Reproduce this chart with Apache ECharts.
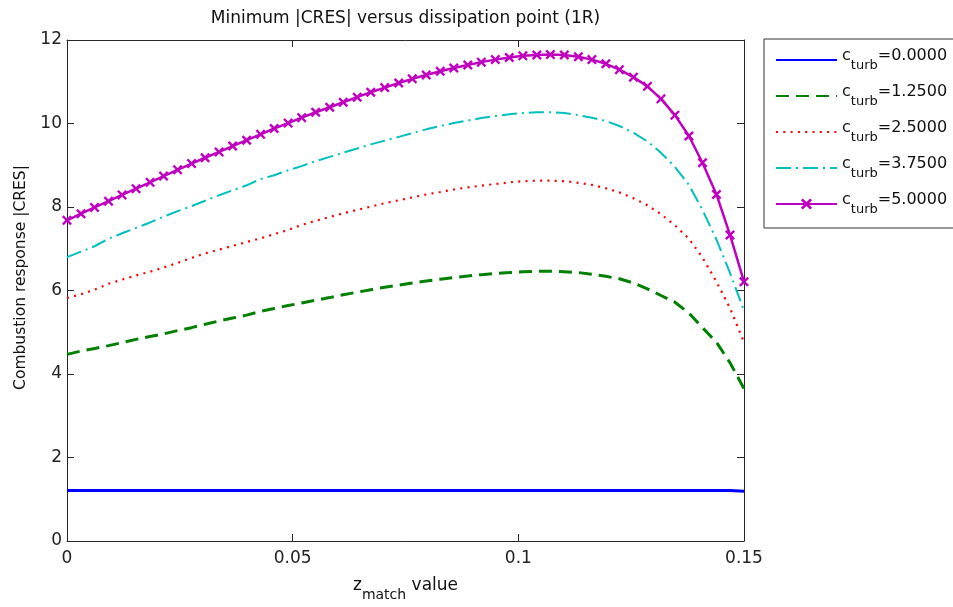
<!DOCTYPE html>
<html>
<head>
<meta charset="utf-8">
<script src="https://cdn.jsdelivr.net/npm/echarts@6/dist/echarts.min.js"></script>
<style>
  html, body { margin: 0; padding: 0; background: #ffffff; }
  #chart { width: 953px; height: 607px; }
</style>
</head>
<body>
<div id="chart"></div>
<script>
// Dissipation point positions (z_match), 50 samples from 0 to 0.15
const zMatch = [
  0, 0.0031, 0.0061, 0.0092, 0.0122, 0.0153, 0.0184, 0.0214, 0.0245, 0.0276,
  0.0306, 0.0337, 0.0367, 0.0398, 0.0429, 0.0459, 0.0490, 0.0520, 0.0551, 0.0582,
  0.0612, 0.0643, 0.0673, 0.0704, 0.0735, 0.0765, 0.0796, 0.0827, 0.0857, 0.0888,
  0.0918, 0.0949, 0.0980, 0.1010, 0.1041, 0.1071, 0.1102, 0.1133, 0.1163, 0.1194,
  0.1224, 0.1255, 0.1286, 0.1316, 0.1347, 0.1378, 0.1408, 0.1439, 0.1469, 0.1500
];

// Turbulence coefficients, one curve each
const cTurb = [0.0, 1.25, 2.5, 3.75, 5.0];

// Minimum |CRES| for each c_turb
const cres0 = [
  1.21, 1.21, 1.21, 1.21, 1.21, 1.21, 1.21, 1.21, 1.21, 1.21,
  1.21, 1.21, 1.21, 1.21, 1.21, 1.21, 1.21, 1.21, 1.21, 1.21,
  1.21, 1.21, 1.21, 1.21, 1.21, 1.21, 1.21, 1.21, 1.21, 1.21,
  1.21, 1.21, 1.21, 1.21, 1.21, 1.21, 1.21, 1.21, 1.21, 1.21,
  1.21, 1.21, 1.21, 1.21, 1.21, 1.21, 1.21, 1.21, 1.21, 1.19
];
const cres125 = [
  4.47, 4.55, 4.61, 4.68, 4.75, 4.83, 4.90, 4.96, 5.04, 5.11,
  5.19, 5.27, 5.34, 5.41, 5.50, 5.57, 5.64, 5.70, 5.77, 5.83,
  5.90, 5.96, 6.02, 6.08, 6.13, 6.18, 6.23, 6.27, 6.31, 6.35,
  6.38, 6.41, 6.43, 6.45, 6.46, 6.46, 6.45, 6.43, 6.39, 6.34,
  6.28, 6.18, 6.04, 5.88, 5.72, 5.46, 5.11, 4.76, 4.27, 3.65
];
const cres250 = [
  5.82, 5.91, 6.02, 6.16, 6.26, 6.36, 6.45, 6.55, 6.66, 6.78,
  6.89, 6.98, 7.07, 7.16, 7.25, 7.35, 7.45, 7.57, 7.67, 7.76,
  7.85, 7.93, 8.01, 8.09, 8.16, 8.23, 8.30, 8.36, 8.42, 8.47,
  8.51, 8.55, 8.59, 8.62, 8.63, 8.63, 8.62, 8.58, 8.53, 8.45,
  8.35, 8.21, 8.04, 7.83, 7.56, 7.24, 6.79, 6.21, 5.58, 4.76
];
const cres375 = [
  6.80, 6.93, 7.06, 7.24, 7.37, 7.50, 7.63, 7.77, 7.90, 8.02,
  8.15, 8.28, 8.40, 8.52, 8.67, 8.76, 8.88, 8.98, 9.10, 9.20,
  9.30, 9.40, 9.50, 9.59, 9.68, 9.77, 9.86, 9.94, 10.01, 10.07,
  10.13, 10.18, 10.22, 10.25, 10.27, 10.27, 10.25, 10.20, 10.14, 10.06,
  9.94, 9.78, 9.57, 9.30, 8.96, 8.53, 7.93, 7.22, 6.42, 5.52
];
const cres500 = [
  7.68, 7.84, 7.99, 8.14, 8.29, 8.44, 8.59, 8.74, 8.89, 9.04,
  9.18, 9.32, 9.46, 9.60, 9.74, 9.88, 10.01, 10.14, 10.27, 10.39,
  10.51, 10.63, 10.75, 10.86, 10.97, 11.07, 11.16, 11.25, 11.33, 11.40,
  11.47, 11.53, 11.58, 11.62, 11.64, 11.65, 11.64, 11.60, 11.53, 11.43,
  11.29, 11.11, 10.89, 10.59, 10.20, 9.70, 9.06, 8.30, 7.33, 6.21
];

// Axis tick labels
const xTickLabels = ['0', '0.05', '0.1', '0.15'];
const yTickLabels = ['0', '2', '4', '6', '8', '10', '12'];

const FONT = 'DejaVu Sans';
const AXIS_COLOR = '#262626';
const X_MARK = 'path://M0,1.7L1.7,0L5,3.3L8.3,0L10,1.7L6.7,5L10,8.3L8.3,10L5,6.7L1.7,10L0,8.3L3.3,5Z';

const curves = [cres0, cres125, cres250, cres375, cres500];
const styles = [
  { color: '#0000ff', width: 3, type: 'solid' },
  { color: '#008000', width: 3, type: [13, 7] },
  { color: '#ff0000', width: 2.2, type: [2, 5.3] },
  { color: '#00bfbf', width: 2, type: [15, 5, 2, 5] },
  { color: '#bf00bf', width: 2.5, type: 'solid' }
];

const series = curves.map((vals, k) => ({
  name: 'c_turb=' + cTurb[k].toFixed(4),
  type: 'line',
  data: zMatch.map((z, i) => [z, vals[i]]),
  showSymbol: k === 4,
  showAllSymbol: true,
  symbol: k === 4 ? X_MARK : 'none',
  symbolSize: 10,
  itemStyle: { color: styles[k].color },
  lineStyle: { color: styles[k].color, width: styles[k].width, type: styles[k].type },
  emphasis: { disabled: true },
  z: 2 + k
}));

// Legend entries: only the last curve carries a marker
const legendData = series.map((s, k) => (
  k === 4 ? { name: s.name } : { name: s.name, itemStyle: { opacity: 0 } }
));

// Rich text pieces for "c" + subscript "turb"
const mainTok = { fontFamily: FONT, fontSize: 16, color: '#111', lineHeight: 16, verticalAlign: 'top' };
const subTok = { fontFamily: FONT, fontSize: 13, color: '#111', lineHeight: 24, verticalAlign: 'bottom' };

const axisBase = {
  axisLine: { show: true, onZero: false, lineStyle: { color: AXIS_COLOR, width: 1 } },
  axisTick: { show: true, inside: true, length: 7, lineStyle: { color: AXIS_COLOR } },
  splitLine: { show: false }
};

const chart = echarts.init(document.getElementById('chart'), null, { renderer: 'canvas' });
chart.setOption({
  animation: false,
  backgroundColor: '#ffffff',
  grid: { left: 67, right: 209, top: 40, bottom: 63 },
  legend: {
    orient: 'vertical',
    left: 764,
    top: 39,
    padding: [9, 40, 12, 11],
    itemWidth: 61,
    itemHeight: 14,
    itemGap: 12,
    borderColor: '#333',
    borderWidth: 1,
    backgroundColor: '#ffffff',
    selectedMode: false,
    data: legendData,
    formatter: name => '{m|c}{s|turb}{m|=' + name.split('=')[1] + '}',
    textStyle: { rich: { m: mainTok, s: subTok } }
  },
  xAxis: [
    Object.assign({
      type: 'value', position: 'bottom', min: 0, max: 0.15, interval: 0.05,
      axisLabel: {
        color: '#222', fontSize: 17, fontFamily: FONT, margin: 9,
        formatter: v => xTickLabels[Math.round(v / 0.05)]
      },
      name: '{a|z}{b|match}{a| value}',
      nameLocation: 'middle',
      nameGap: 36,
      nameTextStyle: {
        rich: {
          a: { fontFamily: FONT, fontSize: 17, color: '#111', lineHeight: 17, verticalAlign: 'top' },
          b: { fontFamily: FONT, fontSize: 14, color: '#111', lineHeight: 25, verticalAlign: 'bottom' }
        }
      }
    }, axisBase),
    Object.assign({
      type: 'value', position: 'top', min: 0, max: 0.15, interval: 0.05,
      axisLabel: { show: false },
      name: 'Minimum |CRES| versus dissipation point (1R)',
      nameLocation: 'middle',
      nameGap: 13,
      nameTextStyle: { fontFamily: FONT, fontSize: 17, color: '#111' }
    }, axisBase)
  ],
  yAxis: [
    Object.assign({
      type: 'value', position: 'left', min: 0, max: 12, interval: 2,
      axisLabel: {
        color: '#222', fontSize: 17, fontFamily: FONT, margin: 5,
        formatter: v => yTickLabels[Math.round(v / 2)]
      },
      name: 'Combustion response |CRES|',
      nameLocation: 'middle',
      nameGap: 31,
      nameTextStyle: { fontFamily: FONT, fontSize: 15.5, color: '#111', padding: [0, 0, 0, 26] }
    }, axisBase),
    Object.assign({
      type: 'value', position: 'right', min: 0, max: 12, interval: 2,
      axisLabel: { show: false }
    }, axisBase)
  ],
  series: series
});
</script>
</body>
</html>
